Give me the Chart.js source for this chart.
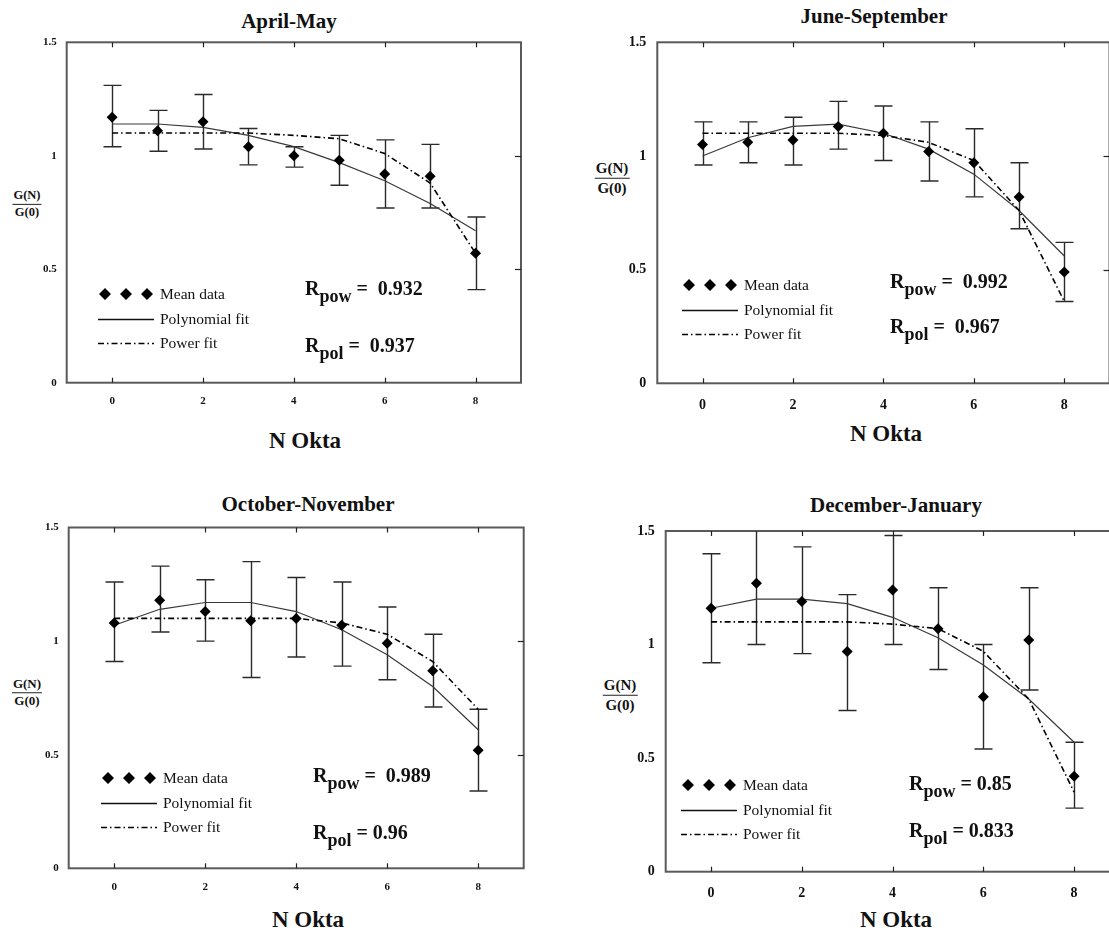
<!DOCTYPE html>
<html><head><meta charset="utf-8">
<script src="https://cdn.jsdelivr.net/npm/chart.js@4.4.1/dist/chart.umd.min.js"></script>
<style>
body{margin:0;width:1109px;height:938px;overflow:hidden;background:#fff;position:relative;font-family:"Liberation Serif","Times New Roman",serif;color:#111;}
.cv{position:absolute;}
.t{position:absolute;font-weight:bold;font-size:21px;transform:translate(-50%,-50%);white-space:nowrap;}
.xl{position:absolute;font-weight:bold;font-size:23px;transform:translate(-50%,-50%);white-space:nowrap;}
.fr{position:absolute;font-weight:bold;transform:translate(-50%,-50%);text-align:center;line-height:1.25;}
.fr .n{border-bottom:1.5px solid #222;padding:0 1px;}
.lg{position:absolute;font-size:15.5px;line-height:24.5px;white-space:nowrap;}
.lg div{height:24.5px;display:flex;align-items:center;}
.lg svg{margin-right:6px;}
.r{position:absolute;font-weight:bold;font-size:20px;white-space:nowrap;}
.r sub{font-size:18px;vertical-align:-7px;line-height:0;}
</style></head><body>

<div class="t" style="left:289px;top:21px">April-May</div>
<div class="t" style="left:874px;top:16px">June-September</div>
<div class="t" style="left:308px;top:504px">October-November</div>
<div class="t" style="left:896px;top:505px">December-January</div>

<div class="xl" style="left:305px;top:441px">N Okta</div>
<div class="xl" style="left:886px;top:434px">N Okta</div>
<div class="xl" style="left:308px;top:920px">N Okta</div>
<div class="xl" style="left:896px;top:920px">N Okta</div>

<div class="fr" style="left:27px;top:204px;font-size:12.5px"><div class="n">G(N)</div><div>G(0)</div></div>
<div class="fr" style="left:612px;top:178px;font-size:15px"><div class="n">G(N)</div><div>G(0)</div></div>
<div class="fr" style="left:27px;top:693px;font-size:13px"><div class="n">G(N)</div><div>G(0)</div></div>
<div class="fr" style="left:620px;top:695px;font-size:15px"><div class="n">G(N)</div><div>G(0)</div></div>

<canvas id="c1" class="cv" style="left:0px;top:0px"></canvas>
<canvas id="c2" class="cv" style="left:555px;top:0px"></canvas>
<canvas id="c3" class="cv" style="left:0px;top:470px"></canvas>
<canvas id="c4" class="cv" style="left:555px;top:470px"></canvas>

<div id="lg1" class="lg" style="left:98px;top:282px"></div>
<div id="lg2" class="lg" style="left:682px;top:273px"></div>
<div id="lg3" class="lg" style="left:101px;top:766px"></div>
<div id="lg4" class="lg" style="left:681px;top:773px"></div>

<div class="r" style="left:305px;top:277px">R<sub>pow</sub> = &nbsp;0.932</div>
<div class="r" style="left:305px;top:334px">R<sub>pol</sub> = &nbsp;0.937</div>
<div class="r" style="left:890px;top:270px">R<sub>pow</sub> = &nbsp;0.992</div>
<div class="r" style="left:890px;top:315px">R<sub>pol</sub> = &nbsp;0.967</div>
<div class="r" style="left:313px;top:764px">R<sub>pow</sub> = &nbsp;0.989</div>
<div class="r" style="left:313px;top:821px">R<sub>pol</sub> = 0.96</div>
<div class="r" style="left:909px;top:772px">R<sub>pow</sub> = 0.85</div>
<div class="r" style="left:909px;top:819px">R<sub>pol</sub> = 0.833</div>

<script>
// ---- data ----
const okta = [0,1,2,3,4,5,6,7,8];
const xTickValues = [0,2,4,6,8];
const yTickValues = [0,0.5,1,1.5];
const yTickLabels = ['0','0.5','1','1.5'];
const titles = ['April-May','June-September','October-November','December-January'];
const legendLabels = ['Mean data','Polynomial fit','Power fit'];

const amMean = [1.17,1.11,1.15,1.04,1.00,0.98,0.92,0.91,0.57];
const amLo   = [1.04,1.02,1.03,0.96,0.95,0.87,0.77,0.77,0.41];
const amHi   = [1.31,1.20,1.27,1.12,1.04,1.09,1.07,1.05,0.73];
const amPoly = [1.14,1.14,1.125,1.09,1.04,0.97,0.89,0.79,0.67];
const amPow  = [1.10,1.10,1.10,1.10,1.09,1.075,1.01,0.88,0.57];

const jsMean = [1.05,1.06,1.07,1.13,1.10,1.02,0.97,0.82,0.49];
const jsLo   = [0.96,0.97,0.96,1.03,0.98,0.89,0.82,0.68,0.36];
const jsHi   = [1.15,1.15,1.17,1.24,1.22,1.15,1.12,0.97,0.62];
const jsPoly = [1.00,1.08,1.13,1.14,1.10,1.03,0.92,0.76,0.56];
const jsPow  = [1.10,1.10,1.10,1.10,1.09,1.06,0.98,0.76,0.36];

const onMean = [1.08,1.18,1.13,1.09,1.10,1.07,0.99,0.87,0.52];
const onLo   = [0.91,1.04,1.00,0.84,0.93,0.89,0.83,0.71,0.34];
const onHi   = [1.26,1.33,1.27,1.35,1.28,1.26,1.15,1.03,0.70];
const onPoly = [1.07,1.14,1.17,1.17,1.13,1.05,0.94,0.80,0.61];
const onPow  = [1.10,1.10,1.10,1.10,1.10,1.08,1.03,0.91,0.70];

const djMean = [1.16,1.27,1.19,0.97,1.24,1.07,0.77,1.02,0.42];
const djLo   = [0.92,1.00,0.96,0.71,1.00,0.89,0.54,0.80,0.28];
const djHi   = [1.40,1.55,1.43,1.22,1.48,1.25,1.00,1.25,0.57];
const djPoly = [1.16,1.20,1.20,1.18,1.12,1.03,0.91,0.76,0.57];
const djPow  = [1.10,1.10,1.10,1.10,1.09,1.07,0.97,0.76,0.35];

// ---- layout per panel (canvas px) ----
const panels = [
  {id:'c1', w:550, h:420, padTop:42.3, padRight:29,  yW:66.7, xH:37.3, tick:11, yPad:2, xPad:4,
   mean:amMean, lo:amLo, hi:amHi, poly:amPoly, pow:amPow, lg:'lg1'},
  {id:'c2', w:560, h:420, padTop:42.3, padRight:2.7, yW:102.3, xH:36.7, tick:14, yPad:3, xPad:6,
   mean:jsMean, lo:jsLo, hi:jsHi, poly:jsPoly, pow:jsPow, lg:'lg2'},
  {id:'c3', w:550, h:430, padTop:57.5, padRight:26.3, yW:68.7, xH:31.7, tick:11, yPad:2, xPad:4,
   mean:onMean, lo:onLo, hi:onHi, poly:onPoly, pow:onPow, lg:'lg3'},
  {id:'c4', w:570, h:430, padTop:61, padRight:4.3, yW:110.7, xH:28.3, tick:14, yPad:3, xPad:5,
   mean:djMean, lo:djLo, hi:djHi, poly:djPoly, pow:djPow, lg:'lg4'}
];

const decor = {
  id:'decor',
  beforeDatasetsDraw(chart, args, opts){
    const {ctx, chartArea:a, scales:{x,y}} = chart;
    ctx.save();
    const ln=(x1,y1,x2,y2)=>{ctx.beginPath();ctx.moveTo(x1,y1);ctx.lineTo(x2,y2);ctx.stroke();};
    ctx.strokeStyle='#5a5a5a'; ctx.lineWidth=2;
    ctx.strokeRect(a.left, a.top, a.right-a.left, a.bottom-a.top);
    ctx.strokeStyle='#222'; ctx.lineWidth=1.2;
    xTickValues.forEach(v=>{const px=Math.round(x.getPixelForValue(v))+0.5; ln(px,a.bottom,px,a.bottom-5); ln(px,a.top,px,a.top+5);});
    [0.5,1].forEach(v=>{const py=Math.round(y.getPixelForValue(v))+0.5; ln(a.right,py,a.right-6,py);});
    ctx.beginPath(); ctx.rect(a.left,a.top,a.right-a.left,a.bottom-a.top); ctx.clip();
    ctx.strokeStyle='#2a2a2a'; ctx.lineWidth=1.4;
    opts.lo.forEach((lo,i)=>{
      const px=Math.round(x.getPixelForValue(okta[i]))+0.5;
      const p1=y.getPixelForValue(lo), p2=y.getPixelForValue(opts.hi[i]);
      ln(px,p1,px,p2); ln(px-9,p1,px+9,p1); ln(px-9,p2,px+9,p2);
    });
    ctx.restore();
  }
};

const tickFamily = '"Liberation Serif", "Times New Roman", serif';

panels.forEach(p=>{
  const cv=document.getElementById(p.id);
  cv.width=p.w; cv.height=p.h; cv.style.width=p.w+'px'; cv.style.height=p.h+'px';
  const pts=arr=>okta.map((v,i)=>({x:v,y:arr[i]}));
  new Chart(cv,{
    type:'scatter',
    data:{datasets:[
      {label:legendLabels[0], data:pts(p.mean), pointStyle:'rectRot', pointRadius:5.5, backgroundColor:'#000', borderColor:'#000', borderWidth:0, showLine:false, order:0},
      {label:legendLabels[1], data:pts(p.poly), showLine:true, borderColor:'#3a3a3a', borderWidth:1.2, pointRadius:0, fill:false, order:2},
      {label:legendLabels[2], data:pts(p.pow), showLine:true, borderColor:'#000', borderWidth:1.6, borderDash:[6,3,1.5,3], pointRadius:0, fill:false, order:1}
    ]},
    options:{
      responsive:false, animation:false, devicePixelRatio:1,
      layout:{padding:{top:p.padTop, right:p.padRight, left:0, bottom:0}},
      plugins:{legend:{display:false}, tooltip:{enabled:false}, decor:{lo:p.lo, hi:p.hi}},
      scales:{
        x:{type:'linear', min:-1, max:9,
           afterBuildTicks:s=>{s.ticks=xTickValues.map(v=>({value:v}));},
           afterFit:s=>{s.height=p.xH;},
           grid:{display:false}, border:{display:false},
           ticks:{color:'#111', padding:p.xPad, maxRotation:0, callback:v=>String(v), font:{family:tickFamily, weight:'bold', size:p.tick}}},
        y:{type:'linear', min:0, max:1.5,
           afterBuildTicks:s=>{s.ticks=yTickValues.map(v=>({value:v}));},
           afterFit:s=>{s.width=p.yW;},
           grid:{display:false}, border:{display:false},
           ticks:{color:'#111', padding:p.yPad, callback:v=>yTickLabels[yTickValues.indexOf(v)] ?? String(v), font:{family:tickFamily, weight:'bold', size:p.tick}}}
      }
    },
    plugins:[decor]
  });
  // legend (HTML)
  const lg=document.getElementById(p.lg);
  lg.innerHTML =
    '<div><svg width="56" height="14"><path d="M7 1 L13 7 L7 13 L1 7Z M28 1 L34 7 L28 13 L22 7Z M49 1 L55 7 L49 13 L43 7Z" fill="#000"/></svg>'+legendLabels[0]+'</div>'+
    '<div><svg width="56" height="14"><line x1="0" y1="7.5" x2="56" y2="7.5" stroke="#111" stroke-width="1.3"/></svg>'+legendLabels[1]+'</div>'+
    '<div><svg width="56" height="14"><line x1="0" y1="7.5" x2="56" y2="7.5" stroke="#000" stroke-width="1.6" stroke-dasharray="6 3 1.5 3"/></svg>'+legendLabels[2]+'</div>';
});
</script>
</body></html>
